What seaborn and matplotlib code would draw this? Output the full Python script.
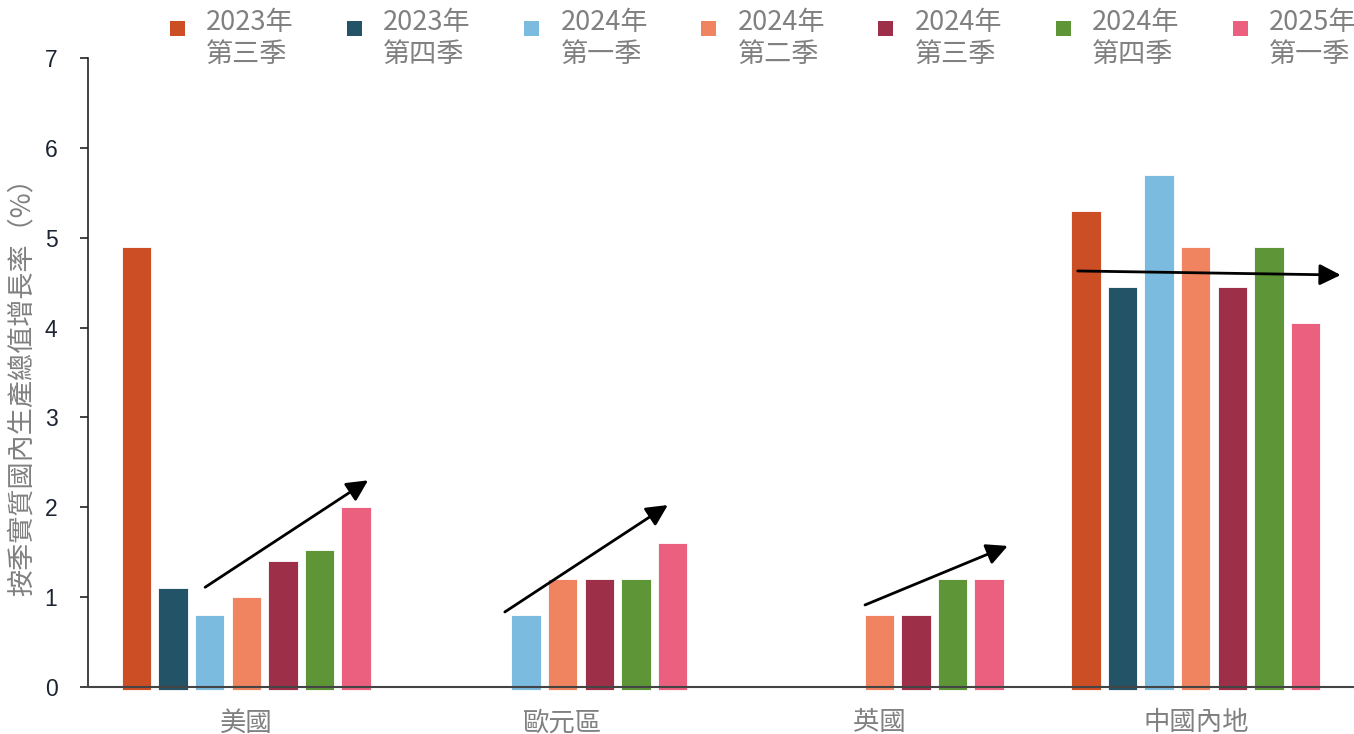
import numpy as np
import pandas as pd
import matplotlib
matplotlib.use("Agg")
import matplotlib.pyplot as plt
from matplotlib.patches import Rectangle
import seaborn as sns

regions = ["美國", "歐元區", "英國", "中國內地"]
series = ["2023年\n第三季", "2023年\n第四季", "2024年\n第一季", "2024年\n第二季",
          "2024年\n第三季", "2024年\n第四季", "2025年\n第一季"]
us = [4.9, 1.1, 0.8, 1.0, 1.4, 1.52, 2.0]
euro = [np.nan, np.nan, 0.8, 1.2, 1.2, 1.2, 1.6]
uk = [np.nan, np.nan, np.nan, 0.8, 0.8, 1.2, 1.2]
china = [5.3, 4.45, 5.7, 4.9, 4.45, 4.9, 4.05]
colors = ["#CC4E25", "#235366", "#7BBBE0", "#F08360", "#9E2F48", "#5D9537", "#EB607E"]
ylabel = "按季實質國內生產總值增長率（%）"
# trend arrows: (x_start, y_start, x_end, y_end) in data units
arrows = [(-0.13, 1.11, 0.385, 2.30),
          (0.817, 0.835, 1.332, 2.025),
          (1.955, 0.913, 2.406, 1.57),
          (2.627, 4.63, 3.458, 4.585)]

rows = []
for reg, vals in zip(regions, [us, euro, uk, china]):
    for s, v in zip(series, vals):
        rows.append({"region": reg, "series": s, "value": v})
df = pd.DataFrame(rows).dropna()

sns.set_theme(style="white")
plt.rcParams['font.family'] = ['Noto Sans CJK TC', 'DejaVu Sans']

fig = plt.figure(figsize=(13.54, 7.34), dpi=100)
ax = fig.add_axes([88/1354, 47/734, 1 - 88/1354, (687-58)/734])

sns.barplot(data=df, x="region", y="value", hue="series", order=regions,
            hue_order=series, palette=colors, saturation=1, width=0.81, gap=0.2,
            edgecolor="white", linewidth=0.6, legend=False, ax=ax, zorder=2)
for p in ax.patches:
    p.set_y(-0.03)
    p.set_height(p.get_height() + 0.03)
    p.set_clip_on(False)

ax.set_xlim(-0.5, 3.5)
ax.set_ylim(0, 7)
ax.set_yticks(range(0, 8))
ax.set_xlabel("")
ax.set_ylabel("")
for s in ["top", "right"]:
    ax.spines[s].set_visible(False)
ax.spines["left"].set_color("#222222")
ax.spines["left"].set_linewidth(1.2)
ax.spines["bottom"].set_color("#444444")
ax.spines["bottom"].set_linewidth(1.5)
ax.spines["bottom"].set_zorder(5)
ax.tick_params(axis="y", which="major", left=True, length=6, width=1.2,
               color="#222222", pad=16, labelsize=16.5, labelcolor="#1c2333")
for t in ax.get_yticklabels():
    t.set_fontfamily(["Liberation Sans", "DejaVu Sans"])
ax.tick_params(axis="x", length=0, pad=16, labelsize=19, labelcolor="#808080")

for (x0, y0, x1, y1) in arrows:
    ax.annotate("", xy=(x1, y1), xytext=(x0, y0),
                arrowprops=dict(arrowstyle="-|>", color="black", lw=2,
                                mutation_scale=32, shrinkA=0, shrinkB=0),
                zorder=6)

fig.text(22/1354, (734-380)/734, ylabel, rotation=90, ha="center", va="center",
         fontsize=19.5, color="#808080")

# legend
for i, (lab, c) in enumerate(zip(series, colors)):
    cx = 177 + i * 177.2
    fig.patches.append(Rectangle(((cx - 7.5)/1354, (734 - 36)/734), 15/1354, 15/734,
                                 transform=fig.transFigure, facecolor=c, edgecolor="none"))
    fig.text((cx + 29)/1354, (734 - 9)/734, lab, ha="left", va="top",
             fontsize=19.5, color="#808080", linespacing=1.25)

fig.savefig("out.png", dpi=100)
